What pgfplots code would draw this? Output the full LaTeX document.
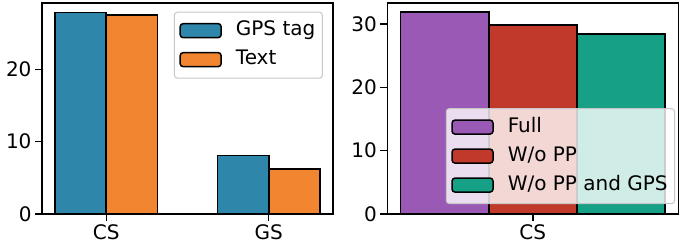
\documentclass[border=0pt]{standalone}
\usepackage{fontspec}
\setmainfont{DejaVu Sans}
\usepackage{pgfplots}
\pgfplotsset{compat=1.18}
\definecolor{cblue}{HTML}{2E86AB}
\definecolor{corange}{HTML}{F18530}
\definecolor{cpurple}{HTML}{9B59B6}
\definecolor{cred}{HTML}{C0392B}
\definecolor{cteal}{HTML}{16A085}
\pgfplotsset{
  mystyle/.style={
    scale only axis,
    width=291bp, height=211bp,
    anchor=south west,
    ybar,
    axis line style={line width=1.4bp},
    tick align=outside,
    major tick length=7bp,
    tick style={black, line width=1.4bp},
    xtick pos=bottom, ytick pos=left,
    ymin=0,
    /pgf/number format/assume math mode=true,
    tick label style={font=\fontsize{20bp}{24bp}\selectfont},
    every axis plot/.append style={draw=black, line width=1.6bp},
    legend image code/.code={\draw[##1,fill opacity=1,line width=1.5bp,draw=black] (0bp,-7bp) rectangle (41bp,7bp);},
    legend cell align=left,
    legend style={font=\fontsize{20bp}{24bp}\selectfont,
      fill=white, fill opacity=0.8, text opacity=1, draw=black!22, draw opacity=1,
      rounded corners=3bp, line width=1bp,
      inner xsep=5bp, inner ysep=6.5bp,
      nodes={inner sep=2bp, text height=15bp, text depth=5bp},
      column sep=12bp, row sep=5bp},
  }
}
\begin{document}
\begin{tikzpicture}
\useasboundingbox (0,0) rectangle (689bp,246bp);
\begin{axis}[mystyle, at={(42bp,32bp)},
  xmin=-0.395, xmax=1.395, ymax=29.17,
  bar width=0.315,
  xtick={0,1}, xticklabels={CS,GS},
  ytick={0,10,20},
  legend style={at={(0.965,0.959)}, anchor=north east},
]
\addplot[fill=cblue, bar shift=-0.1575] coordinates {(0,27.88) (1,8.11)};
\addplot[fill=corange, bar shift=0.1575] coordinates {(0,27.51) (1,6.18)};
\legend{GPS tag, Text}
\end{axis}
\begin{axis}[mystyle, at={(387.3bp,32bp)},
  xmin=-0.4125, xmax=0.4125, ymax=33.3,
  bar width=0.25,
  xtick={0}, xticklabels={CS},
  ytick={0,10,20,30},
  legend style={at={(0.989,0.047)}, anchor=south east},
]
\addplot[fill=cpurple, bar shift=-0.25] coordinates {(0,31.86)};
\addplot[fill=cred, bar shift=0] coordinates {(0,29.86)};
\addplot[fill=cteal, bar shift=0.25] coordinates {(0,28.4)};
\legend{Full, W/o PP, W/o PP and GPS}
\end{axis}
\end{tikzpicture}
\end{document}
